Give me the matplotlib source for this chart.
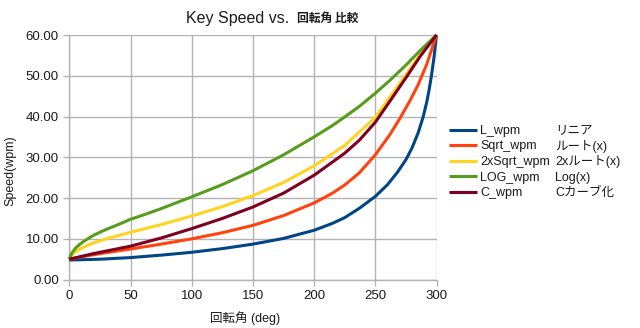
import matplotlib
matplotlib.use("Agg")
import matplotlib.pyplot as plt
from matplotlib.ticker import FormatStrFormatter

plt.rcParams['font.family'] = ['Liberation Sans', 'Noto Sans CJK JP', 'DejaVu Sans']

# Rotation angle (deg) vs. key speed (wpm) for each mapping curve
deg_L = [0, 25, 50, 75, 100, 125, 150, 175, 200, 215, 225, 237, 250, 260, 268, 275,
         280, 285, 289, 292, 294, 296, 298, 300]
L_wpm = [4.8, 5.0, 5.4, 6.0, 6.7, 7.6, 8.7, 10.1, 12.1, 13.8, 15.2, 17.5, 20.4, 23.3,
         26.3, 29.4, 32.3, 36.0, 39.8, 43.5, 46.6, 50.3, 54.6, 60.0]

deg_S = [0, 10, 20, 30, 50, 75, 100, 125, 150, 175, 200, 215, 225, 237, 250, 262, 270,
         278, 285, 292, 300]
Sqrt_wpm = [5.0, 5.6, 6.1, 6.6, 7.5, 8.7, 10.0, 11.5, 13.3, 15.7, 18.8, 21.2, 23.2, 26.2,
            30.6, 35.6, 39.5, 43.7, 47.8, 52.8, 60.0]

deg_2S = [0, 2, 5, 10, 15, 20, 30, 40, 50, 75, 100, 125, 150, 175, 200, 225, 250, 262,
          275, 287, 300]
Sqrt2_wpm = [5.0, 6.0, 6.8, 7.7, 8.4, 9.0, 10.0, 10.8, 11.6, 13.5, 15.6, 17.9, 20.6, 23.8,
             27.9, 32.9, 39.8, 44.8, 50.3, 55.3, 60.0]

deg_LOG = [0, 2, 5, 10, 15, 20, 30, 40, 50, 60, 75, 100, 125, 150, 175, 200, 215, 225,
           237, 250, 262, 275, 287, 300]
LOG_wpm = [5.0, 6.5, 7.7, 9.0, 10.0, 10.9, 12.3, 13.5, 14.8, 15.8, 17.4, 20.3, 23.3, 26.7,
           30.6, 35.0, 37.8, 39.9, 42.5, 45.7, 48.9, 52.6, 56.3, 60.0]

deg_C = [0, 10, 20, 30, 50, 75, 100, 125, 150, 175, 200, 225, 237, 250, 262, 275, 287, 300]
C_wpm = [5.0, 5.7, 6.4, 7.0, 8.2, 10.2, 12.5, 15.0, 17.8, 21.2, 25.6, 31.0, 34.2, 38.6,
         43.8, 49.5, 54.9, 60.0]

series_names = ["L_wpm", "Sqrt_wpm", "2xSqrt_wpm", "LOG_wpm", "C_wpm"]
series_notes = ["リニア", "ルート(x)", "2xルート(x)", "Log(x)", "Cカーブ化"]
colors = ["#004586", "#ff420e", "#ffd320", "#579d1c", "#7e0021"]

x_ticks = [0, 50, 100, 150, 200, 250, 300]
y_ticks = [0, 10, 20, 30, 40, 50, 60]

W, H = 640, 328
fig = plt.figure(figsize=(W / 100, H / 100), dpi=100)
ax = fig.add_axes([69.3 / W, 1 - 279.6 / H, (436.5 - 69.3) / W, (279.6 - 35.0) / H])

grid_c = "#b3b3b3"
text_c = "#1a1a1a"

data = [(deg_L, L_wpm), (deg_S, Sqrt_wpm), (deg_2S, Sqrt2_wpm), (deg_LOG, LOG_wpm), (deg_C, C_wpm)]
handles = []
for (xs, ys), name, col in zip(data, series_names, colors):
    h, = ax.plot(xs, ys, color=col, lw=2.2, label=name, clip_on=False, zorder=3,
                 solid_capstyle='butt', solid_joinstyle='round')
    handles.append(h)

ax.set_xlim(0, 300)
ax.set_ylim(0, 60)
ax.set_xticks(x_ticks)
ax.set_yticks(y_ticks)
ax.yaxis.set_major_formatter(FormatStrFormatter('%.2f'))
ax.grid(True, color=grid_c, lw=1.0, zorder=0)
for s in ("top", "right"):
    ax.spines[s].set_visible(False)
for s in ("left", "bottom"):
    ax.spines[s].set_color(grid_c)
    ax.spines[s].set_linewidth(1.0)
ax.tick_params(direction='out', length=4, width=1.0, color=grid_c,
               labelsize=9.5, labelcolor=text_c, pad=3.5)

# Title: Latin part and CJK part sized separately
fig.text(186 / W, 1 - 18 / H, "Key Speed vs.", fontsize=11.5, color=text_c,
         ha='left', va='center', family=['Liberation Sans'])
fig.text(297 / W, 1 - 18 / H, "回転角 比較", fontsize=8.5, color=text_c,
         ha='left', va='center', family=['Noto Sans CJK JP'], fontweight='bold')

fig.text(10 / W, 1 - 171 / H, "Speed(wpm)", rotation=90, fontsize=9,
         color=text_c, ha='center', va='center')
fig.text(245 / W, 1 - 318 / H, "回転角 (deg)", fontsize=9, color=text_c,
         ha='center', va='center')

fs = 9.0
fs_px = fs * 100 / 72
leg = fig.legend(handles=handles, labels=series_names, loc='upper left',
                 bbox_to_anchor=(449.3 / W, 1 - 125 / H), bbox_transform=fig.transFigure,
                 frameon=False, fontsize=fs, handlelength=28 / fs_px,
                 handletextpad=3 / fs_px, labelspacing=0.28, borderpad=0,
                 borderaxespad=0, labelcolor=text_c)

fig.canvas.draw()
renderer = fig.canvas.get_renderer()
for t, note in zip(leg.get_texts(), series_notes):
    bb = t.get_window_extent(renderer)
    yc = (bb.y0 + bb.y1) / 2
    fig.text(555 / W, yc / H, note, fontsize=fs, color=text_c, ha='left', va='center')

fig.savefig("out.png", dpi=100)
